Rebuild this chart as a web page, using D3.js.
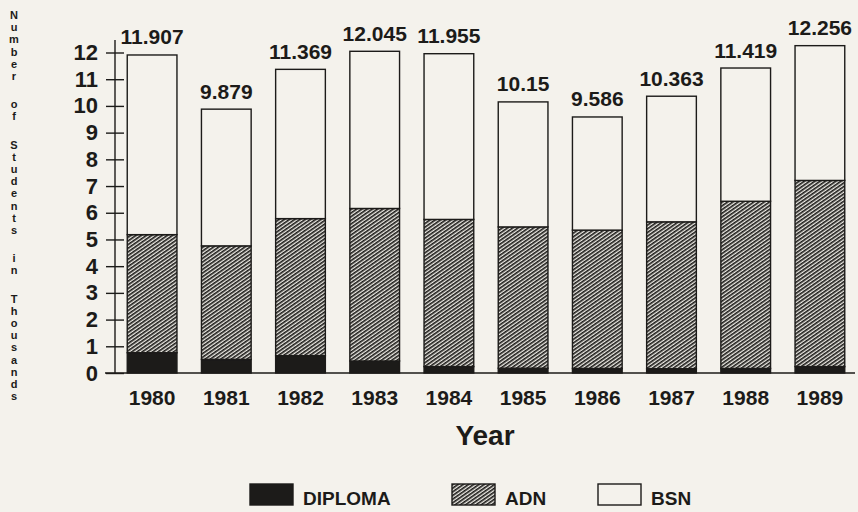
<!DOCTYPE html>
<html>
<head>
<meta charset="utf-8">
<script src="https://cdn.jsdelivr.net/npm/d3@7"></script>
<style>
  body { margin: 0; background: #f4f2ec; }
  svg { display: block; font-family: "Liberation Sans", Arial, sans-serif; }
</style>
</head>
<body>
<div id="chart"></div>
<script>
// values (thousands of students)
let years = ["1980", "1981", "1982", "1983", "1984", "1985", "1986", "1987", "1988", "1989"];
let diploma = [0.76, 0.51, 0.65, 0.45, 0.24, 0.18, 0.17, 0.16, 0.17, 0.24];
let adn = [4.42, 4.25, 5.13, 5.71, 5.51, 5.29, 5.18, 5.50, 6.26, 6.97];
let bsn = [6.727, 5.119, 5.589, 5.885, 6.205, 4.68, 4.236, 4.703, 4.989, 5.046];
let yTicks = [0, 1, 2, 3, 4, 5, 6, 7, 8, 9, 10, 11, 12];
let seriesNames = ["DIPLOMA", "ADN", "BSN"];
let yTitle = "Number of Students in Thousands";
let xTitle = "Year";

let width = 858;
let height = 512;
let ink = "#1c1b19";
let paper = "#f4f2ec";

let svg = d3.select("#chart")
    .append("svg")
    .attr("width", width)
    .attr("height", height);

svg.append("rect")
    .attr("width", width)
    .attr("height", height)
    .attr("fill", paper);

// hatch for ADN
let defs = svg.append("defs");
let pat = defs.append("pattern")
    .attr("id", "hatch")
    .attr("patternUnits", "userSpaceOnUse")
    .attr("width", 3)
    .attr("height", 3)
    .attr("patternTransform", "rotate(-35)");
pat.append("rect").attr("width", 3).attr("height", 3).attr("fill", "#eeece6");
pat.append("line")
    .attr("x1", 0).attr("y1", 0.8).attr("x2", 3).attr("y2", 0.8)
    .attr("stroke", ink)
    .attr("stroke-width", 1.7);

let fills = {DIPLOMA: ink, ADN: "url(#hatch)", BSN: paper};

let x = d3.scaleBand()
    .domain(years)
    .range([115, 857])
    .paddingInner(0.33)
    .paddingOuter(0.165);

let y = d3.scaleLinear()
    .domain([0, 12])
    .range([373, 52.5]);

// stack the three series
let rows = years.map((yr, i) => ({year: yr, DIPLOMA: diploma[i], ADN: adn[i], BSN: bsn[i]}));
let stacked = d3.stack().keys(seriesNames)(rows);

let layers = svg.append("g")
    .selectAll("g")
    .data(stacked)
    .enter()
    .append("g")
    .attr("fill", d => fills[d.key]);

layers.selectAll("rect")
    .data(d => d)
    .enter()
    .append("rect")
    .attr("x", d => x(d.data.year))
    .attr("width", x.bandwidth())
    .attr("y", d => y(d[1]))
    .attr("height", d => y(d[0]) - y(d[1]))
    .attr("stroke", ink)
    .attr("stroke-width", 1.4);

// totals above bars
svg.append("g")
    .selectAll("text")
    .data(rows)
    .enter()
    .append("text")
    .attr("x", d => x(d.year) + x.bandwidth() / 2)
    .attr("y", d => y(d.DIPLOMA + d.ADN + d.BSN) - 10.5)
    .attr("text-anchor", "middle")
    .attr("font-size", 21)
    .attr("font-weight", "bold")
    .attr("fill", ink)
    .text(d => String(+(d.DIPLOMA + d.ADN + d.BSN).toFixed(3)));

// y axis
let yAxis = svg.append("g")
    .attr("transform", "translate(115,0)")
    .call(d3.axisLeft(y).tickValues(yTicks).tickSize(9).tickPadding(8));
yAxis.select(".domain").remove();
yAxis.selectAll(".tick line").attr("x1", 9).attr("stroke", ink).attr("stroke-width", 1.4);
yAxis.selectAll(".tick text")
    .attr("font-size", 22)
    .attr("font-weight", "bold")
    .attr("font-family", "Liberation Sans, Arial, sans-serif")
    .attr("fill", ink);
yAxis.append("line")
    .attr("x1", 0).attr("x2", 0)
    .attr("y1", 40).attr("y2", y(0))
    .attr("stroke", ink)
    .attr("stroke-width", 1.4);

// x axis
let xAxis = svg.append("g")
    .attr("transform", "translate(0," + y(0) + ")")
    .call(d3.axisBottom(x).tickSize(0).tickPadding(17));
xAxis.select(".domain").remove();
xAxis.selectAll(".tick text")
    .attr("font-size", 21)
    .attr("font-weight", "bold")
    .attr("font-family", "Liberation Sans, Arial, sans-serif")
    .attr("fill", ink);
xAxis.append("line")
    .attr("x1", 105).attr("x2", 855)
    .attr("y1", 0).attr("y2", 0)
    .attr("stroke", ink)
    .attr("stroke-width", 1.6);

svg.append("text")
    .attr("x", 485)
    .attr("y", 445)
    .attr("text-anchor", "middle")
    .attr("font-size", 28)
    .attr("font-weight", "bold")
    .attr("fill", ink)
    .text(xTitle);

// stacked vertical y title, one upright letter per step
let yy = 19;
let letters = [];
for (let c of yTitle) {
    if (c === " ") { yy += 16; continue; }
    letters.push({c: c, y: yy});
    yy += 12.2;
}
svg.append("g")
    .selectAll("text")
    .data(letters)
    .enter()
    .append("text")
    .attr("x", 14)
    .attr("y", d => d.y)
    .attr("text-anchor", "middle")
    .attr("font-size", 11)
    .attr("font-weight", "bold")
    .attr("fill", ink)
    .text(d => d.c);

// legend
let legendX = [250, 452, 598];
let legend = svg.append("g")
    .selectAll("g")
    .data(seriesNames)
    .enter()
    .append("g")
    .attr("transform", (d, i) => "translate(" + legendX[i] + ",484)");
legend.append("rect")
    .attr("width", 43)
    .attr("height", 21)
    .attr("fill", d => fills[d])
    .attr("stroke", ink)
    .attr("stroke-width", 1.4);
legend.append("text")
    .attr("x", 53)
    .attr("y", 20.5)
    .attr("font-size", 19)
    .attr("font-weight", "bold")
    .attr("fill", ink)
    .text(d => d);
</script>
</body>
</html>
